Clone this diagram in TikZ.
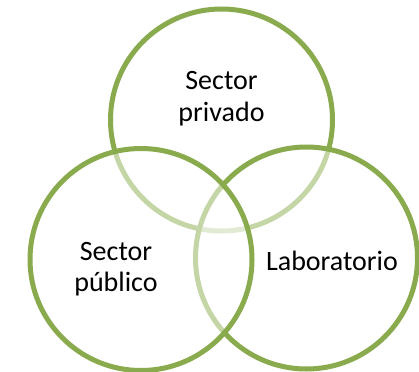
\documentclass[tikz,border=0pt]{standalone}
\usepackage{fontspec}
\setmainfont{Carlito}
\definecolor{vgreen}{RGB}{137,171,78}
\begin{document}
\begin{tikzpicture}[x=1pt,y=-1pt,
  venn/.style={circle, draw=vgreen, line width=5pt, fill=white, fill opacity=0.5,
    minimum size=222pt, inner sep=0pt},
  lbl/.style={font=\fontsize{28}{31.5}\selectfont, align=center, inner sep=0pt, text=black}]
\useasboundingbox (0,0) rectangle (419,371);
\node[venn] (top) at (221.5,120) {};
\node[venn] (right) at (306.5,258) {};
\node[venn] (left) at (141,259.5) {};
\node[lbl] (tlabel) at (221.5,98.7) {Sector\\privado};
\node[lbl] (llabel) at (116,269) {Sector\\público};
\node[lbl, anchor=base] (rlabel) at (332,270) {Laboratorio};
\end{tikzpicture}
\end{document}
